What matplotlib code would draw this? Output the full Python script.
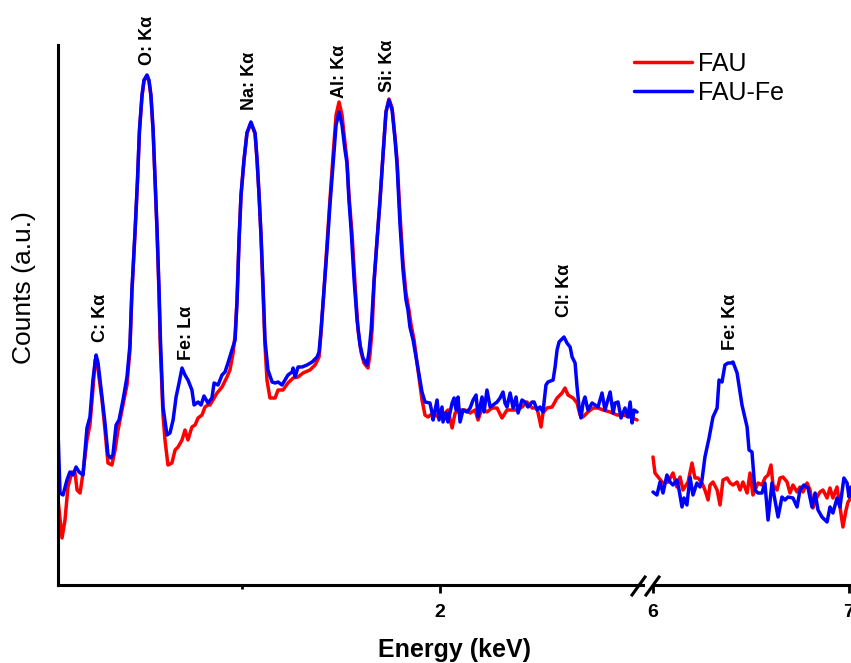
import matplotlib
matplotlib.use('Agg')
import matplotlib.pyplot as plt
from matplotlib.lines import Line2D

plt.rcParams['font.family'] = ['Liberation Sans', 'DejaVu Sans']

# ---------------- data (energy in keV, counts in a.u.) ----------------
fe_low_E = [0.071,0.081,0.096,0.116,0.131,0.146,0.162,0.177,0.197,0.217,
            0.232,0.247,0.263,0.273,0.293,0.308,0.323,0.338,0.348,0.364,
            0.379,0.399,0.419,0.434,0.444,0.460,0.472,0.482,0.495,0.505,
            0.520,0.530,0.540,0.551,0.561,0.571,0.581,0.588,0.601,0.621,
            0.636,0.652,0.667,0.682,0.697,0.712,0.727,0.747,0.758,0.778,
            0.793,0.808,0.828,0.848,0.859,0.879,0.899,0.914,0.929,0.949,
            0.965,0.975,0.985,0.995,1.010,1.025,1.045,1.066,1.076,1.086,
            1.096,1.106,1.116,1.131,1.152,1.167,1.182,1.202,1.217,1.232,
            1.253,1.258,1.268,1.283,1.303,1.328,1.354,1.379,1.389,1.399,
            1.414,1.429,1.444,1.460,1.475,1.490,1.505,1.520,1.530,1.540,
            1.551,1.566,1.581,1.596,1.611,1.631,1.641,1.652,1.667,1.682,
            1.697,1.712,1.727,1.742,1.758,1.773,1.783,1.798,1.813,1.828,
            1.838,1.848,1.864,1.884,1.909,1.924,1.949,1.960,1.965,1.985,
            1.995,2.010,2.015,2.030,2.040,2.061,2.071,2.081,2.091,2.101,
            2.116,2.136,2.152,2.167,2.182,2.192,2.212,2.222,2.237,2.253,
            2.268,2.288,2.303,2.318,2.328,2.338,2.354,2.369,2.384,2.394,
            2.414,2.429,2.444,2.465,2.475,2.490,2.505,2.520,2.535,2.545,
            2.571,2.581,2.591,2.601,2.626,2.641,2.657,2.667,2.682,2.692,
            2.702,2.712,2.722,2.732,2.747,2.768,2.783,2.798,2.818,2.833,
            2.859,2.874,2.884,2.899,2.914,2.934,2.949,2.960,2.970,2.980,
            2.995]
fe_low_c = [151,90,88,103,111,108,116,111,108,155,
            166,203,228,220,186,160,128,125,128,158,
            163,183,206,238,293,353,403,453,488,503,
            508,503,488,453,403,353,293,243,176,148,
            150,163,186,200,215,208,203,193,178,181,
            178,187,180,185,200,198,208,211,220,233,
            243,283,343,388,423,450,461,450,423,388,
            348,298,243,213,201,200,201,198,203,208,
            211,215,206,216,216,218,221,226,231,253,
            293,333,378,420,458,471,458,433,420,383,
            353,303,263,238,225,218,231,253,303,343,
            383,428,471,483,473,443,418,358,313,283,
            273,256,243,220,191,181,180,170,163,183,
            163,176,161,170,161,180,185,173,186,161,
            173,171,175,183,188,166,186,171,193,176,
            178,181,185,191,180,176,190,175,186,170,
            183,181,176,181,181,173,176,171,198,201,
            203,216,233,241,246,240,236,226,220,196,
            176,165,180,186,173,180,178,176,190,173,
            191,170,180,181,165,175,166,181,160,173,
            171]

fau_low_E = [0.071,0.091,0.106,0.121,0.141,0.157,0.167,0.182,0.197,0.217,
             0.232,0.247,0.258,0.273,0.293,0.308,0.323,0.343,0.359,0.374,
             0.399,0.419,0.434,0.444,0.460,0.472,0.482,0.495,0.505,0.520,
             0.530,0.540,0.551,0.561,0.571,0.581,0.588,0.601,0.611,0.626,
             0.646,0.662,0.677,0.697,0.712,0.727,0.747,0.763,0.778,0.798,
             0.813,0.828,0.838,0.874,0.899,0.924,0.939,0.955,0.965,0.975,
             0.985,0.995,1.010,1.025,1.045,1.066,1.076,1.086,1.096,1.106,
             1.116,1.126,1.141,1.167,1.182,1.207,1.232,1.258,1.283,1.308,
             1.343,1.369,1.389,1.399,1.414,1.429,1.444,1.460,1.475,1.490,
             1.505,1.520,1.530,1.540,1.556,1.571,1.586,1.601,1.616,1.636,
             1.646,1.657,1.667,1.682,1.697,1.712,1.727,1.742,1.758,1.773,
             1.783,1.798,1.813,1.828,1.843,1.854,1.869,1.884,1.909,1.924,
             1.939,1.965,1.990,2.015,2.040,2.061,2.076,2.101,2.126,2.152,
             2.177,2.192,2.212,2.237,2.263,2.288,2.313,2.338,2.364,2.389,
             2.414,2.439,2.465,2.490,2.510,2.520,2.540,2.566,2.591,2.616,
             2.631,2.646,2.672,2.692,2.707,2.722,2.747,2.773,2.798,2.823,
             2.859,2.894,2.924,2.960,2.995]
fau_low_c = [83,45,63,96,111,110,93,90,110,143,
             158,193,223,213,183,153,120,118,133,153,
             178,198,233,291,351,401,451,487,502,507,
             502,487,452,402,351,288,233,168,143,118,
             120,133,136,143,153,143,156,158,165,168,
             176,178,178,190,196,206,213,230,248,283,
             343,388,423,450,460,449,423,388,346,293,
             238,203,185,185,193,193,200,205,206,210,
             213,218,226,250,293,338,383,428,468,481,
             468,440,423,388,348,298,253,231,220,215,
             228,253,301,343,383,428,471,484,475,445,
             423,368,321,290,273,258,243,220,183,168,
             166,170,166,168,173,155,170,173,173,170,
             173,163,175,171,175,175,165,173,173,173,
             176,181,175,175,156,170,175,176,185,190,
             195,188,185,180,168,166,171,175,175,173,
             171,168,168,166,163]

fe_high_E = [6.000,6.020,6.036,6.051,6.071,6.087,6.102,6.122,6.133,6.148,
             6.158,6.173,6.189,6.204,6.224,6.240,6.250,6.265,6.286,6.306,
             6.327,6.337,6.352,6.367,6.383,6.398,6.408,6.429,6.454,6.480,
             6.490,6.505,6.520,6.536,6.556,6.571,6.587,6.607,6.622,6.638,
             6.658,6.673,6.689,6.714,6.735,6.750,6.770,6.791,6.811,6.827,
             6.842,6.862,6.888,6.903,6.918,6.939,6.954,6.974,6.990,7.000,7.010]
fe_high_c = [91,88,101,90,108,101,98,103,93,76,
             85,78,106,88,100,96,103,126,145,166,
             175,203,201,218,220,220,221,210,178,156,
             133,131,93,90,90,100,63,100,83,66,
             86,83,86,85,76,93,98,95,76,90,
             73,66,61,76,70,85,76,105,100,86,96]

fau_high_E = [6.000,6.010,6.026,6.051,6.077,6.102,6.122,6.138,6.153,6.179,
              6.199,6.214,6.230,6.250,6.265,6.281,6.291,6.306,6.327,6.342,
              6.357,6.378,6.393,6.408,6.429,6.444,6.459,6.480,6.495,6.510,
              6.536,6.556,6.571,6.587,6.602,6.612,6.633,6.648,6.663,6.684,
              6.699,6.714,6.735,6.750,6.765,6.786,6.801,6.816,6.837,6.852,
              6.867,6.888,6.903,6.918,6.939,6.954,6.969,6.985,6.995,7.010]
fau_high_c = [126,110,106,100,101,110,96,106,93,101,
              120,105,105,100,93,83,98,101,93,78,
              103,105,100,98,101,93,101,90,110,88,
              100,98,105,108,118,98,93,105,106,101,
              90,98,91,96,91,100,93,75,86,91,
              93,85,95,85,96,76,56,73,81,85]

series_names = ['FAU', 'FAU-Fe']
series_colors = ['#ff0000', '#0000ff']

low_labels = ['C: Kα', 'O: Kα', 'Fe: Lα', 'Na: Kα', 'Al: Kα', 'Si: Kα', 'Cl: Kα']
low_label_E = [0.283, 0.525, 0.722, 1.040, 1.490, 1.737, 2.631]
low_label_c = [241, 518, 223, 473, 485, 491, 266]
high_labels = ['Fe: Kα']
high_label_E = [6.393]
high_label_c = [233]

x_ticks_low = [2]
x_minor_low = [1]
x_ticks_high = [6, 7]

# ---------------- figure ----------------
W, H = 851, 663
fig = plt.figure(figsize=(W / 100, H / 100), dpi=100)

def fx(px):
    return px / W

def fy(py):
    return (H - py) / H

bottom = fy(585)
height = fy(45) - bottom
ax1 = fig.add_axes([fx(58), bottom, fx(643) - fx(58), height])
ax2 = fig.add_axes([fx(653), bottom, fx(849) - fx(653), height], sharey=ax1)

lw = 2.5
kw = dict(lw=lw, solid_joinstyle='round', solid_capstyle='round')
ax1.plot(fau_low_E, fau_low_c, color=series_colors[0], label=series_names[0], **kw)
ax1.plot(fe_low_E, fe_low_c, color=series_colors[1], label=series_names[1], **kw)
ax2.plot(fau_high_E, fau_high_c, color=series_colors[0], clip_on=False, **kw)
ax2.plot(fe_high_E, fe_high_c, color=series_colors[1], clip_on=False, **kw)

ax1.set_xlim(0.0707, 3.025)
ax2.set_xlim(6.0, 7.0)
ax1.set_ylim(-2, 538)

for ax in (ax1, ax2):
    for s in ('top', 'right'):
        ax.spines[s].set_visible(False)
    ax.spines['bottom'].set_linewidth(2.2)
    ax.spines['left'].set_linewidth(2.2)
    ax.set_yticks([])
    ax.tick_params(axis='x', which='major', direction='out', length=6, width=2,
                   pad=8, labelsize=14)
    ax.tick_params(axis='x', which='minor', direction='out', length=3, width=2)
    ax.patch.set_visible(False)
ax2.spines['left'].set_visible(False)
ax2.tick_params(axis='y', left=False)

ax1.set_xticks(x_ticks_low)
ax1.set_xticklabels([str(t) for t in x_ticks_low], fontweight='bold')
ax1.set_xticks(x_minor_low, minor=True)
ax2.set_xticks(x_ticks_high)
ax2.set_xticklabels([str(t) for t in x_ticks_high], fontweight='bold')

for t, e, c in zip(low_labels, low_label_E, low_label_c):
    ax1.text(e, c, t, rotation=90, ha='center', va='bottom', fontsize=13,
             fontweight='bold', clip_on=False)
for t, e, c in zip(high_labels, high_label_E, high_label_c):
    ax2.text(e, c, t, rotation=90, ha='center', va='bottom', fontsize=13,
             fontweight='bold', clip_on=False)

# axis break marks
for x0 in (632, 646):
    fig.add_artist(Line2D([fx(x0), fx(x0 + 13)], [fy(595), fy(577)],
                          transform=fig.transFigure, color='black', lw=2.2))

fig.text(fx(454), fy(650), 'Energy (keV)', ha='center', va='center',
         fontsize=18, fontweight='bold')
fig.text(fx(24), fy(288), 'Counts (a.u.)', ha='center', va='center',
         rotation=90, fontsize=19)

fig.legend(handles=ax1.get_lines(), labels=series_names, loc='upper left',
           bbox_to_anchor=(fx(634), fy(52)), frameon=False, fontsize=18,
           handlelength=2.3, handletextpad=0.25, labelspacing=0.2,
           borderpad=0, borderaxespad=0)

fig.savefig('out.png', dpi=100)
